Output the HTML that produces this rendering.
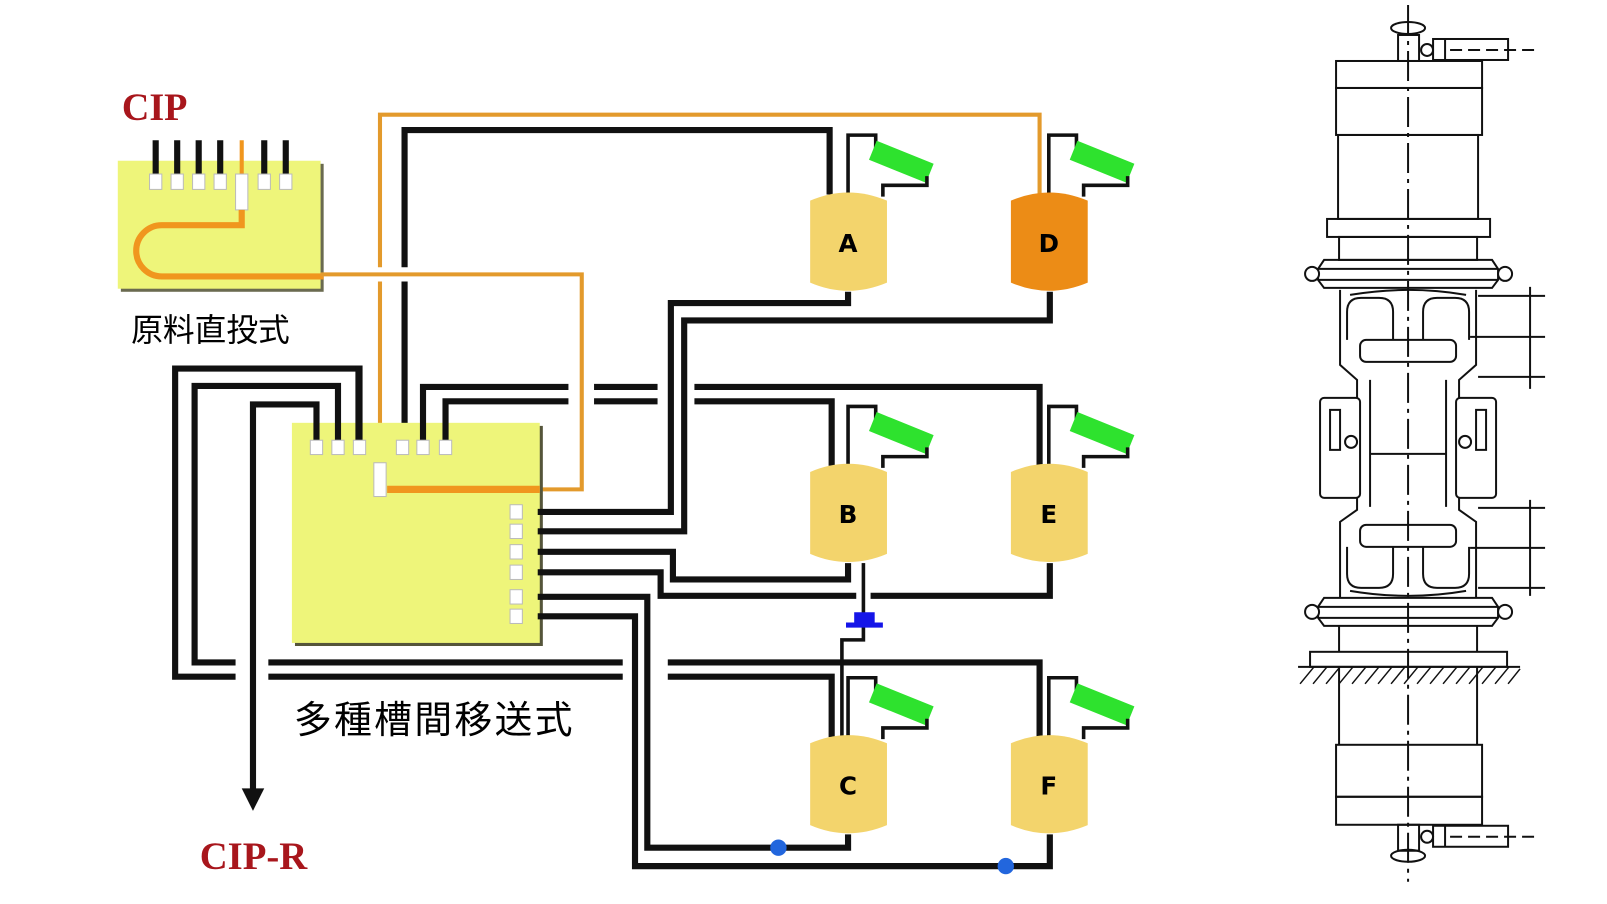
<!DOCTYPE html>
<html><head><meta charset="utf-8"><style>
html,body{margin:0;padding:0;background:#fff;}
svg{display:block;}
</style></head><body>
<svg width="1607" height="904" viewBox="0 0 1569 883" preserveAspectRatio="none" xmlns="http://www.w3.org/2000/svg">
<rect x="0" y="0" width="1569" height="883" fill="#fff"/>
<defs>
<g id="tk">
  <polyline points="828,190 828,132 855,132 855,145" fill="none" stroke="#111" stroke-width="3.5"/>
  <rect x="850" y="148" width="60" height="20" fill="#2ee22e" transform="rotate(22 880 158)"/>
  <polyline points="905,172 905,181 862,181 862,192" fill="none" stroke="#111" stroke-width="3.5"/>
</g>
</defs>

<!-- ===== CIP small box ===== -->
<text x="119" y="117" font-family="Liberation Serif, serif" font-weight="bold" font-size="38" fill="#a8161c" textLength="64" lengthAdjust="spacingAndGlyphs">CIP</text>
<rect x="118" y="160" width="198" height="125" fill="#6a6a50"/>
<rect x="115" y="157" width="198" height="125" fill="#eef57a"/>
<g stroke="#111" stroke-width="6">
  <line x1="152" y1="137" x2="152" y2="170"/><line x1="173" y1="137" x2="173" y2="170"/>
  <line x1="194" y1="137" x2="194" y2="170"/><line x1="215" y1="137" x2="215" y2="170"/>
  <line x1="258" y1="137" x2="258" y2="170"/><line x1="279" y1="137" x2="279" y2="170"/>
</g>
<line x1="236" y1="137" x2="236" y2="170" stroke="#f0961e" stroke-width="4"/>
<g fill="#fff" stroke="#bbb" stroke-width="1">
  <rect x="146" y="170" width="12" height="15"/><rect x="167" y="170" width="12" height="15"/>
  <rect x="188" y="170" width="12" height="15"/><rect x="209" y="170" width="12" height="15"/>
  <rect x="230" y="170" width="12" height="35"/>
  <rect x="252" y="170" width="12" height="15"/><rect x="273" y="170" width="12" height="15"/>
</g>
<path d="M236,205 L236,220 L158,220 A25,25 0 0 0 158,270 L316,270" fill="none" stroke="#f0961e" stroke-width="6"/>
<text x="128" y="333" font-family="Liberation Sans, Noto Sans CJK JP, sans-serif" font-size="31" fill="#000">原料直投式</text>

<!-- ===== orange & top black lines ===== -->
<polyline points="395,437 395,127 810,127 810,190" fill="none" stroke="#111" stroke-width="6"/>
<polyline points="371,452 371,112 1015,112 1015,190" fill="none" stroke="#e39a2c" stroke-width="4"/>
<line x1="362" y1="268" x2="404" y2="268" stroke="#fff" stroke-width="14"/>
<polyline points="313,268 568,268 568,478 525,478" fill="none" stroke="#e39a2c" stroke-width="4"/>

<!-- ===== Big box ===== -->
<rect x="288" y="416" width="242" height="215" fill="#55553a"/>
<rect x="285" y="413" width="242" height="215" fill="#eef57a"/>
<line x1="378" y1="478" x2="527" y2="478" stroke="#f0961e" stroke-width="7"/>
<rect x="365" y="452" width="12" height="33" fill="#fff" stroke="#bbb"/>

<g fill="none" stroke="#111" stroke-width="6">
  <polyline points="309,437 309,395 247,395 247,772"/>
  <polyline points="330,437 330,377 190,377 190,647 230,647"/>
  <polyline points="351,437 351,360 171,360 171,661 230,661"/>
  <line x1="262" y1="647" x2="608" y2="647"/>
  <line x1="262" y1="661" x2="608" y2="661"/>
  <polyline points="652,647 1015,647 1015,720"/>
  <polyline points="652,661 812,661 812,720"/>
  <polyline points="413,437 413,378 555,378"/>
  <polyline points="435,437 435,392 555,392"/>
  <line x1="580" y1="378" x2="642" y2="378"/>
  <line x1="580" y1="392" x2="642" y2="392"/>
  <polyline points="678,378 1015,378 1015,455"/>
  <polyline points="678,392 812,392 812,455"/>
  <polyline points="828,285 828,296 655,296 655,500 525,500"/>
  <polyline points="1025,285 1025,313 668,313 668,519 525,519"/>
  <polyline points="828,550 828,566 657,566 657,539 525,539"/>
  <polyline points="525,559 645,559 645,582 836,582"/>
  <polyline points="850,582 1025,582 1025,550"/>
  <polyline points="525,583 632,583 632,828 828,828 828,815"/>
  <polyline points="525,602 620,602 620,846 1025,846 1025,815"/>
</g>
<polygon points="236,770 258,770 247,792" fill="#111"/>
<line x1="350" y1="357" x2="350" y2="437" stroke="#111" stroke-width="6"/>
<polyline points="843,550 843,600" fill="none" stroke="#111" stroke-width="3.5"/>
<polyline points="843,612 843,625 822,625 822,720" fill="none" stroke="#111" stroke-width="3.5"/>
<path d="M834,598 h20 v10 h8 v5 h-36 v-5 h8 z" fill="#1515e8"/>
<circle cx="760" cy="828" r="8" fill="#2266dd"/>
<circle cx="982" cy="846" r="8" fill="#2266dd"/>

<g fill="#fff" stroke="#bbb" stroke-width="1">
  <rect x="303" y="430" width="12" height="14"/><rect x="324" y="430" width="12" height="14"/><rect x="345" y="430" width="12" height="14"/>
  <rect x="387" y="430" width="12" height="14"/><rect x="407" y="430" width="12" height="14"/><rect x="429" y="430" width="12" height="14"/>
  <rect x="498" y="493" width="12" height="14"/><rect x="498" y="512" width="12" height="14"/><rect x="498" y="532" width="12" height="14"/>
  <rect x="498" y="552" width="12" height="14"/><rect x="498" y="576" width="12" height="14"/><rect x="498" y="595" width="12" height="14"/>
</g>

<g font-family="DejaVu Sans, sans-serif" font-weight="bold" font-size="24" text-anchor="middle">
  <use href="#tk"/>
  <path d="M791,196 Q828,180 866,196 V276 Q828,292 791,276 Z" fill="#f3d46c"/>
  <text x="828" y="246">A</text>
  <g transform="translate(196,0)"><use href="#tk"/>
  <path d="M791,196 Q828,180 866,196 V276 Q828,292 791,276 Z" fill="#ec8c16"/>
  <text x="828" y="246">D</text></g>
  <g transform="translate(0,265)"><use href="#tk"/>
  <path d="M791,196 Q828,180 866,196 V276 Q828,292 791,276 Z" fill="#f3d46c"/>
  <text x="828" y="246">B</text></g>
  <g transform="translate(196,265)"><use href="#tk"/>
  <path d="M791,196 Q828,180 866,196 V276 Q828,292 791,276 Z" fill="#f3d46c"/>
  <text x="828" y="246">E</text></g>
  <g transform="translate(0,530)"><use href="#tk"/>
  <path d="M791,196 Q828,180 866,196 V276 Q828,292 791,276 Z" fill="#f3d46c"/>
  <text x="828" y="246">C</text></g>
  <g transform="translate(196,530)"><use href="#tk"/>
  <path d="M791,196 Q828,180 866,196 V276 Q828,292 791,276 Z" fill="#f3d46c"/>
  <text x="828" y="246">F</text></g>
</g>

<text x="287" y="716" font-family="Liberation Sans, Noto Sans CJK JP, sans-serif" font-size="37" fill="#000" textLength="272">多種槽間移送式</text>
<text x="195" y="849" font-family="Liberation Serif, serif" font-weight="bold" font-size="38" fill="#a8161c" textLength="105" lengthAdjust="spacingAndGlyphs">CIP-R</text>

<g transform="scale(0.9764 0.9765)" fill="none" stroke="#111" stroke-width="2">
  <line x1="1408" y1="5" x2="1408" y2="882" stroke-dasharray="30,6,4,6"/>
  <ellipse cx="1408" cy="28" rx="17" ry="6"/>
  <rect x="1398" y="35" width="21" height="26"/>
  <circle cx="1427" cy="50" r="6"/>
  <rect x="1433" y="39" width="75" height="21"/>
  <line x1="1445" y1="39" x2="1445" y2="60"/>
  <line x1="1450" y1="50" x2="1540" y2="50" stroke-dasharray="12,6"/>
  <rect x="1336" y="61" width="146" height="27"/>
  <rect x="1336" y="88" width="146" height="47"/>
  <rect x="1338" y="135" width="140" height="84"/>
  <rect x="1327" y="219" width="163" height="18"/>
  <rect x="1339" y="237" width="138" height="23"/>
  <path d="M1324,260 H1492 L1498,269 V280 L1492,288 H1324 L1318,280 V269 Z"/>
  <line x1="1318" y1="269" x2="1498" y2="269"/><line x1="1318" y1="280" x2="1498" y2="280"/>
  <circle cx="1312" cy="274" r="7" fill="#fff"/><circle cx="1505" cy="274" r="7" fill="#fff"/>
  <path d="M1340,290 V365 L1357,380 V398 M1357,498 V510 L1340,522 V598"/>
  <path d="M1476,290 V365 L1459,380 V398 M1459,498 V510 L1476,522 V598"/>
  <path d="M1370,380 V507 M1446,380 V507"/>
  <path d="M1350,295 Q1408,285 1466,295"/>
  <rect x="1320" y="398" width="40" height="100" rx="4"/>
  <rect x="1456" y="398" width="40" height="100" rx="4"/>
  <rect x="1330" y="410" width="10" height="40"/><rect x="1476" y="410" width="10" height="40"/>
  <circle cx="1351" cy="442" r="6"/><circle cx="1465" cy="442" r="6"/>
  <line x1="1370" y1="454" x2="1446" y2="454"/>
  <path d="M1347,340 V312 Q1347,298 1361,298 H1379 Q1393,298 1393,312 V340"/>
  <path d="M1423,340 V312 Q1423,298 1437,298 H1455 Q1469,298 1469,312 V340"/>
  <rect x="1360" y="340" width="96" height="22" rx="6"/>
  <rect x="1360" y="525" width="96" height="22" rx="6"/>
  <path d="M1393,547 V574 Q1393,588 1379,588 H1361 Q1347,588 1347,574 V547"/>
  <path d="M1423,547 V574 Q1423,588 1437,588 H1455 Q1469,588 1469,574 V547"/>
  <path d="M1350,591 Q1408,601 1466,591"/>
  <line x1="1478" y1="296" x2="1545" y2="296"/><line x1="1478" y1="377" x2="1545" y2="377"/>
  <line x1="1470" y1="337" x2="1545" y2="337"/>
  <line x1="1530" y1="287" x2="1530" y2="389"/>
  <line x1="1478" y1="508" x2="1545" y2="508"/><line x1="1478" y1="588" x2="1545" y2="588"/>
  <line x1="1470" y1="548" x2="1545" y2="548"/>
  <line x1="1530" y1="500" x2="1530" y2="596"/>
  <path d="M1324,598 H1492 L1498,607 V618 L1492,626 H1324 L1318,618 V607 Z"/>
  <line x1="1318" y1="607" x2="1498" y2="607"/><line x1="1318" y1="618" x2="1498" y2="618"/>
  <circle cx="1312" cy="612" r="7" fill="#fff"/><circle cx="1505" cy="612" r="7" fill="#fff"/>
  <line x1="1339" y1="626" x2="1339" y2="652"/><line x1="1477" y1="626" x2="1477" y2="652"/>
  <rect x="1310" y="652" width="197" height="15"/>
  <line x1="1298" y1="667" x2="1520" y2="667"/>
  <path d="M1300,684 l14,-17 M1313,684 l14,-17 M1326,684 l14,-17 M1339,684 l14,-17 M1352,684 l14,-17 M1365,684 l14,-17 M1378,684 l14,-17 M1391,684 l14,-17 M1404,684 l14,-17 M1417,684 l14,-17 M1430,684 l14,-17 M1443,684 l14,-17 M1456,684 l14,-17 M1469,684 l14,-17 M1482,684 l14,-17 M1495,684 l14,-17 M1508,684 l12,-15" stroke-width="1.5"/>
  <line x1="1339" y1="667" x2="1339" y2="745"/><line x1="1477" y1="667" x2="1477" y2="745"/>
  <rect x="1336" y="745" width="146" height="52"/>
  <rect x="1336" y="797" width="146" height="28"/>
  <rect x="1398" y="825" width="21" height="26"/>
  <ellipse cx="1408" cy="856" rx="17" ry="6"/>
  <circle cx="1427" cy="837" r="6"/>
  <rect x="1433" y="826" width="75" height="21"/>
  <line x1="1445" y1="826" x2="1445" y2="847"/>
  <line x1="1450" y1="837" x2="1540" y2="837" stroke-dasharray="12,6"/>
</g>
</svg>
</body></html>
